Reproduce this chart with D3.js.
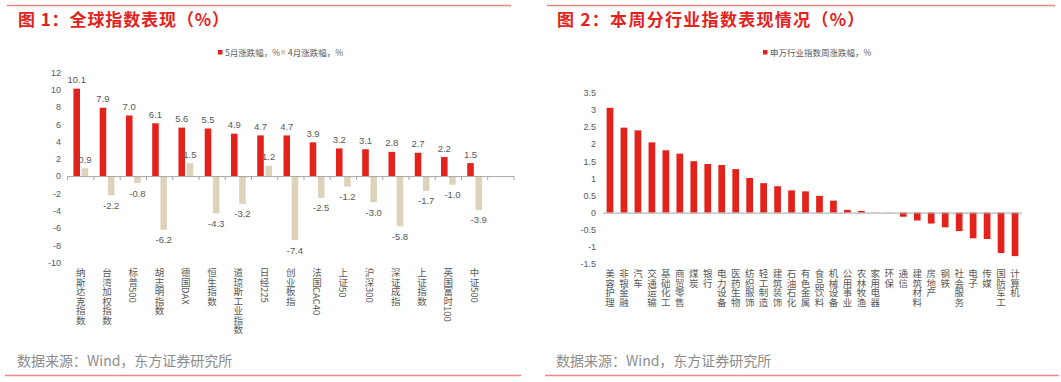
<!DOCTYPE html>
<html>
<head>
<meta charset="utf-8">
<script src="https://cdn.jsdelivr.net/npm/d3@7/dist/d3.min.js"></script>
<style>
  html, body { margin: 0; padding: 0; background: #fff; }
  svg { display: block; }
  .cjk { font-family: "Noto Sans CJK SC", "Noto Sans", sans-serif; }
  .num { font-family: "Liberation Sans", Arial, sans-serif; }
  .vlab { writing-mode: vertical-rl; text-orientation: mixed; }
</style>
</head>
<body>
<svg id="chart" width="1061" height="382"></svg>
<script>
// ---------- Data: Figure 1 ----------
const globalIndices = ["纳斯达克指数","台湾加权指数","标普500","胡志明指数","德国DAX","恒生指数","道琼斯工业指数","日经225","创业板指","法国CAC40","上证50","沪深300","深证成指","上证指数","英国富时100","中证500"];
const mayChange = [10.1, 7.9, 7.0, 6.1, 5.6, 5.5, 4.9, 4.7, 4.7, 3.9, 3.2, 3.1, 2.8, 2.7, 2.2, 1.5];
const aprChange = [0.9, -2.2, -0.8, -6.2, 1.5, -4.3, -3.2, 1.2, -7.4, -2.5, -1.2, -3.0, -5.8, -1.7, -1.0, -3.9];
const leftTicks = [12, 10, 8, 6, 4, 2, 0, -2, -4, -6, -8, -10];
const leftSeriesNames = ["5月涨跌幅，%", "4月涨跌幅，%"];

// ---------- Data: Figure 2 ----------
const industries = ["美容护理","非银金融","汽车","交通运输","基础化工","商贸零售","煤炭","银行","电力设备","医药生物","纺织服饰","轻工制造","建筑装饰","石油石化","有色金属","食品饮料","机械设备","公用事业","农林牧渔","家用电器","环保","通信","建筑材料","房地产","钢铁","社会服务","电子","传媒","国防军工","计算机"];
const weeklyChange = [3.06, 2.48, 2.40, 2.05, 1.82, 1.72, 1.50, 1.42, 1.39, 1.27, 1.01, 0.86, 0.77, 0.65, 0.62, 0.49, 0.35, 0.08, 0.05, 0.005, -0.005, -0.12, -0.23, -0.32, -0.43, -0.54, -0.75, -0.77, -1.18, -1.27];
const rightTicks = [3.5, 3, 2.5, 2, 1.5, 1, 0.5, 0, -0.5, -1, -1.5];
const rightSeriesName = "申万行业指数周涨跌幅，%";

const titles = ["图 1：全球指数表现（%）", "图 2：本周分行业指数表现情况（%）"];
const sourceText = "数据来源：Wind，东方证券研究所";

// ---------- Styles ----------
const RED = "#e3221c", BEIGE = "#ddd3bb", LINE_RED = "#ef8683", TITLE_RED = "#e3221c";
const GRAY_TXT = "#595959", AXIS = "#a6a6a6", SRC = "#8c8c8c";

const svg = d3.select("#chart");

// Frames: titles, top/bottom lines, source
const frames = [
  {x0: 7, x1: 511, tx: 18, bx0: 5, bx1: 521, sx: 17, ls: 0.9},
  {x0: 547, x1: 1055, tx: 557, bx0: 545, bx1: 1059, sx: 556, ls: 1.3}
];
frames.forEach((f, i) => {
  svg.append("line").attr("x1", f.x0).attr("x2", f.x1).attr("y1", 5.5).attr("y2", 5.5)
    .attr("stroke", LINE_RED).attr("stroke-width", 1.6);
  svg.append("text").attr("class", "cjk").attr("x", f.tx).attr("y", 26)
    .attr("font-size", 17).attr("font-weight", "bold").attr("letter-spacing", f.ls)
    .attr("fill", TITLE_RED).text(titles[i]);
  svg.append("text").attr("class", "cjk").attr("x", f.sx).attr("y", 366)
    .attr("font-size", 14).attr("fill", SRC).text(sourceText);
  svg.append("line").attr("x1", f.bx0).attr("x2", f.bx1).attr("y1", 375.5).attr("y2", 375.5)
    .attr("stroke", LINE_RED).attr("stroke-width", 1.6);
});

// ---------- Figure 1 ----------
{
  const cats = globalIndices.concat([" "]);
  const x = d3.scaleBand().domain(cats).range([67.7, 514]).padding(0);
  const xs = d3.scaleBand().domain([0, 1]).range([0, x.bandwidth()]).paddingInner(0.2).paddingOuter(0.7);
  const y = d3.scaleLinear().domain([-10, 12]).range([262.7, 72.2]);
  const g = svg.append("g");

  const ya = d3.axisLeft(y).tickValues(leftTicks).tickSize(0).tickPadding(0).tickFormat(d => String(d));
  const yg = g.append("g").attr("transform", "translate(61,0)").call(ya);
  yg.select(".domain").remove();
  yg.selectAll("text").attr("class", "num").attr("font-size", 9).attr("fill", GRAY_TXT);

  const series = [mayChange, aprChange];
  const colors = [RED, BEIGE];
  series.forEach((vals, si) => {
    g.append("g").selectAll("rect").data(vals).join("rect")
      .attr("x", (d, i) => x(globalIndices[i]) + xs(si))
      .attr("width", xs.bandwidth())
      .attr("y", d => y(Math.max(0, d)))
      .attr("height", d => Math.abs(y(d) - y(0)))
      .attr("fill", colors[si]);
    g.append("g").selectAll("text").data(vals).join("text")
      .attr("class", "num")
      .attr("x", (d, i) => x(globalIndices[i]) + xs(si) + xs.bandwidth() / 2)
      .attr("y", d => d >= 0 ? y(d) - 5.5 : y(d) + 13.5)
      .attr("text-anchor", "middle").attr("font-size", 9.5).attr("fill", GRAY_TXT)
      .text(d => d.toFixed(1));
  });

  g.append("line").attr("x1", x.range()[0]).attr("x2", x.range()[1])
    .attr("y1", y(0) + 0.5).attr("y2", y(0) + 0.5).attr("stroke", AXIS).attr("stroke-width", 1);
  const bounds = cats.map(c => x(c)).concat([x.range()[1]]);
  g.append("g").selectAll("line").data(bounds).join("line")
    .attr("x1", d => d).attr("x2", d => d).attr("y1", y(0)).attr("y2", y(0) + 4)
    .attr("stroke", AXIS).attr("stroke-width", 1);

  g.append("g").selectAll("text").data(globalIndices).join("text")
    .attr("class", "cjk vlab")
    .attr("x", d => x(d) + x.bandwidth() / 2)
    .attr("y", 268)
    .attr("font-size", 9.5).attr("fill", GRAY_TXT)
    .text(d => d);

  const lx = [218, 281];
  leftSeriesNames.forEach((n, i) => {
    g.append("rect").attr("x", lx[i]).attr("y", 50).attr("width", 4.5).attr("height", 4.5).attr("fill", colors[i]);
    g.append("text").attr("class", "cjk").attr("x", lx[i] + 7).attr("y", 55.5)
      .attr("font-size", 8.5).attr("fill", GRAY_TXT).text(n);
  });
}

// ---------- Figure 2 ----------
{
  const x = d3.scaleBand().domain(industries).range([603, 1022]).paddingInner(0.52).paddingOuter(0.26);
  const y = d3.scaleLinear().domain([-1.5, 3.5]).range([264, 92.7]);
  const g = svg.append("g");

  const ya = d3.axisLeft(y).tickValues(rightTicks).tickSize(0).tickPadding(0).tickFormat(d => String(d));
  const yg = g.append("g").attr("transform", "translate(596,0)").call(ya);
  yg.select(".domain").remove();
  yg.selectAll("text").attr("class", "num").attr("font-size", 9).attr("fill", GRAY_TXT);

  g.append("g").selectAll("rect").data(weeklyChange).join("rect")
    .attr("x", (d, i) => x(industries[i]))
    .attr("width", x.bandwidth())
    .attr("y", d => y(Math.max(0, d)))
    .attr("height", d => Math.abs(y(d) - y(0)))
    .attr("fill", RED);

  g.append("line").attr("x1", 603).attr("x2", 1022)
    .attr("y1", y(0) + 0.5).attr("y2", y(0) + 0.5).attr("stroke", AXIS).attr("stroke-width", 1);

  g.append("g").selectAll("text").data(industries).join("text")
    .attr("class", "cjk vlab")
    .attr("x", d => x(d) + x.bandwidth() / 2)
    .attr("y", 269)
    .attr("font-size", 9.5).attr("fill", GRAY_TXT)
    .text(d => d);

  g.append("rect").attr("x", 763).attr("y", 50).attr("width", 4.5).attr("height", 4.5).attr("fill", RED);
  g.append("text").attr("class", "cjk").attr("x", 770).attr("y", 55.5)
    .attr("font-size", 8.5).attr("fill", GRAY_TXT).text(rightSeriesName);
}
</script>
</body>
</html>
